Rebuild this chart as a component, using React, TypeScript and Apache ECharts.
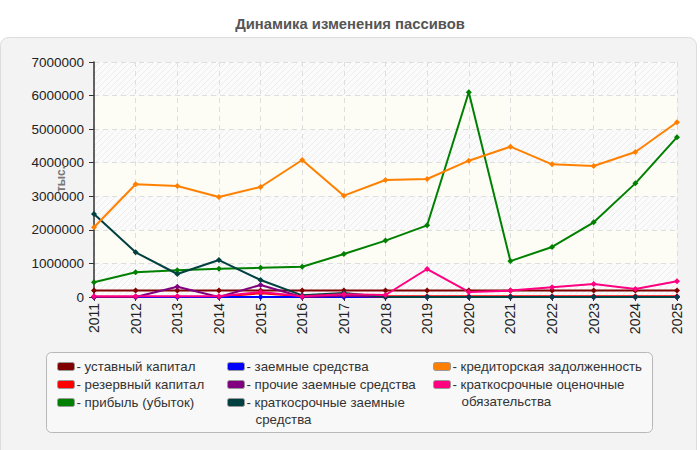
import React, { useEffect, useRef } from "react";
import * as echarts from "echarts";

const years = ["2011","2012","2013","2014","2015","2016","2017","2018","2019","2020","2021","2022","2023","2024","2025"];
const yTicks = [0, 1000000, 2000000, 3000000, 4000000, 5000000, 6000000, 7000000];

const ustavny = [190000,190000,190000,190000,190000,190000,190000,190000,190000,190000,190000,190000,190000,190000,190000];
const rezerv = [0,0,0,5000,110000,25000,25000,25000,25000,25000,25000,25000,25000,25000,25000];
const pribyl = [440000,735000,800000,845000,870000,900000,1280000,1680000,2135000,6100000,1070000,1490000,2225000,3385000,4760000];
const zaemnye = [0,0,0,0,0,0,0,0,0,0,0,0,0,0,0];
const prochie = [0,0,307000,0,357000,0,40000,0,0,0,0,0,0,0,0];
const kratkZaem = [2470000,1330000,685000,1100000,506000,50000,120000,0,0,0,0,0,0,0,0];
const kredit = [2076000,3357000,3306000,2979000,3277000,4080000,3018000,3485000,3515000,4060000,4477000,3952000,3902000,4319000,5204000];
const ocenoch = [20000,20000,20000,20000,150000,20000,80000,60000,834000,150000,190000,290000,387000,238000,467000];

const seriesNames = [
  "уставный капитал",
  "резервный капитал",
  "прибыль (убыток)",
  "заемные средства",
  "прочие заемные средства",
  "краткосрочные заемные средства",
  "кредиторская задолженность",
  "краткосрочные оценочные обязательства",
];
const seriesColors = ["#800000", "#ff0000", "#008000", "#0000ff", "#800080", "#004040", "#ff8000", "#ff0080"];
const seriesData = [ustavny, rezerv, pribyl, zaemnye, prochie, kratkZaem, kredit, ocenoch];

const legendCols = [
  [0, 1, 2],
  [3, 4, 5],
  [6, 7],
];
// first line shown in the legend item, second line drawn beneath it
const legendFirstLine: Record<string, string> = {
  "краткосрочные заемные средства": "краткосрочные заемные",
  "краткосрочные оценочные обязательства": "краткосрочные оценочные",
};
const legendSecondLine: Record<string, string> = {
  "краткосрочные заемные средства": "средства",
  "краткосрочные оценочные обязательства": "обязательства",
};

function makeHatch(): string {
  const c = document.createElement("canvas");
  c.width = 6;
  c.height = 6;
  const ctx = c.getContext("2d");
  if (!ctx) return "";
  ctx.fillStyle = "#fbfbfb";
  ctx.fillRect(0, 0, 6, 6);
  ctx.strokeStyle = "#ededed";
  ctx.lineWidth = 1;
  for (let k = -6; k <= 12; k += 6) {
    ctx.beginPath();
    ctx.moveTo(k, 6);
    ctx.lineTo(k + 6, 0);
    ctx.stroke();
  }
  return c.toDataURL();
}

export default function App() {
  const ref = useRef<HTMLDivElement>(null);
  useEffect(() => {
    if (!ref.current) return;
    const chart = echarts.init(ref.current, null, { renderer: "svg" });
    const hatchUrl = makeHatch();
    const hatch: any = hatchUrl ? { image: hatchUrl, repeat: "repeat" } : "#f6f6f6";
    const plain = "#fdfdf6";
    const font = "'Liberation Sans', Arial, sans-serif";
    const legFont = 13.3;

    const legendX = [57, 227, 433];
    const legends = legendCols.map((col, i) => ({
      orient: "vertical",
      left: legendX[i],
      top: 358,
      padding: 0,
      itemGap: 1,
      itemWidth: 17,
      itemHeight: 8,
      icon: "roundRect",
      itemStyle: { borderColor: "#999", borderWidth: 1 },
      textStyle: { fontSize: legFont, color: "#333", fontFamily: font, lineHeight: 17, padding: [0, 0, 0, -3] },
      formatter: (n: string) => "- " + (legendFirstLine[n] || n),
      data: col.map((k) => seriesNames[k]),
    }));

    const extraTexts: any[] = [];
    legendCols.forEach((col, i) => {
      col.forEach((k, row) => {
        const second = legendSecondLine[seriesNames[k]];
        if (second) {
          extraTexts.push({
            type: "text",
            x: legendX[i] + 17 + 5 - 3 + 9.5,
            y: 358 + row * 18 + 17 + 8.5,
            style: {
              text: second,
              fill: "#333",
              fontSize: legFont,
              fontFamily: font,
              align: "left",
              verticalAlign: "middle",
            },
          });
        }
      });
    });

    chart.setOption({
      animation: false,
      textStyle: { fontFamily: font },
      title: {
        text: "Динамика изменения пассивов",
        left: "center",
        top: 11,
        textStyle: { fontSize: 14.8, fontWeight: "bold", color: "#555", fontFamily: font },
      },
      graphic: [
        {
          type: "rect",
          z: -10,
          shape: { x: 0.5, y: 37.5, width: 696, height: 430, r: 8 },
          style: { fill: "#f3f3f3", stroke: "#dcdcdc", lineWidth: 1 },
        },
        {
          type: "rect",
          z: -9,
          shape: { x: 46.5, y: 352.5, width: 606, height: 80, r: 5 },
          style: { fill: "#f8f8f8", stroke: "#b8b8b8", lineWidth: 1 },
        },
        {
          type: "text",
          x: 61,
          y: 179,
          z: 100,
          rotation: Math.PI / 2,
          style: {
            text: "тыс.",
            fill: "#777",
            fontSize: 12,
            fontWeight: "bold",
            fontFamily: font,
            align: "center",
            verticalAlign: "middle",
          },
        },
        ...extraTexts,
      ],
      legend: legends,
      grid: { left: 94, right: 23, top: 62, bottom: 153, containLabel: false },
      xAxis: {
        type: "category",
        data: years,
        boundaryGap: false,
        axisLine: { lineStyle: { color: "#333", width: 1.5 } },
        axisTick: { show: true, length: 4, lineStyle: { color: "#333" } },
        axisLabel: { rotate: 90, fontSize: 14, color: "#222", margin: 6, fontFamily: font },
        splitLine: { show: true, lineStyle: { color: "#dedede", type: [5, 4] } },
      },
      yAxis: {
        type: "value",
        min: yTicks[0],
        max: yTicks[yTicks.length - 1],
        interval: 1000000,
        axisLine: { show: true, lineStyle: { color: "#333", width: 1.5 } },
        axisTick: { show: true, length: 5, lineStyle: { color: "#333" } },
        axisLabel: { fontSize: 13.5, color: "#222", margin: 10, fontFamily: font, formatter: (v: number) => String(v) },
        splitLine: { show: true, lineStyle: { color: "#dedede", type: [5, 4] } },
        splitArea: { show: true, areaStyle: { color: [hatch, plain] } },
      },
      series: seriesNames.map((name, i) => ({
        name,
        type: "line",
        data: seriesData[i],
        color: seriesColors[i],
        lineStyle: { width: 2, color: seriesColors[i] },
        symbol: "diamond",
        symbolSize: 6,
        itemStyle: { color: seriesColors[i] },
      })),
    });
    return () => chart.dispose();
  }, []);
  return <div ref={ref} style={{ width: 700, height: 450, position: "absolute", left: 0, top: 0 }} />;
}
